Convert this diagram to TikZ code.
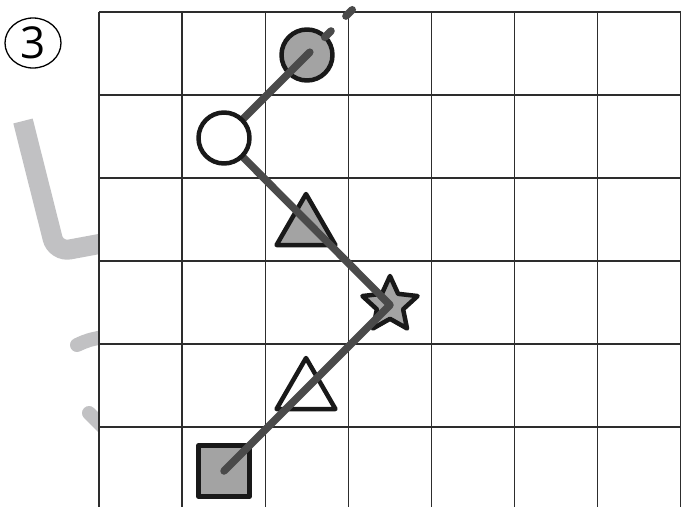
\documentclass[tikz,border=0pt]{standalone}
\usepackage{fontspec}
\newfontfamily\numfont{Open Sans}
\usetikzlibrary{shapes.geometric}
\definecolor{markgray}{RGB}{163,163,163}
\definecolor{pathgray}{RGB}{74,74,74}
\definecolor{ghostgray}{RGB}{193,193,195}
\definecolor{gridline}{RGB}{45,45,45}

\begin{document}
\begin{tikzpicture}[x=1pt,y=-1pt,
  token/.style={draw=black!90,line width=4.5pt,line join=round,inner sep=0pt},
  dot/.style={token,circle,minimum size=51pt},
  tri/.style={token,regular polygon,regular polygon sides=3,minimum size=68pt},
  route/.style={pathgray,line width=7.5pt,line cap=round,line join=round},
  ghost/.style={ghostgray,line width=14pt,line cap=round}]
  \useasboundingbox (0,0) rectangle (681,507);
  \draw[ghost,line width=20pt,line cap=butt,rounded corners=14pt] (23,121) -- (56,252) -- (110,242);
  \draw[ghost] (77,345) .. controls (88,340) .. (108,336);
  \draw[ghost] (89,413) -- (108,432);
  \fill[white] (99,12) rectangle (681,507);
  \foreach \i in {0,...,7}
    \draw[gridline,line width=1.3pt] (99+83.14*\i,12) -- (99+83.14*\i,507);
  \foreach \j in {0,...,5}
    \draw[gridline,line width=1.3pt] (99,12+83*\j) -- (681,12+83*\j);
  \node[draw,ellipse,line width=1.3pt,minimum width=56pt,minimum height=50pt,inner sep=0pt,
    font=\numfont\fontsize{44}{44}\selectfont] (num) at (33,43) {3};
  \node[dot,fill=markgray] (gc) at (307,55) {};
  \node[tri,fill=markgray] (tg) at (306,228) {};
  \node[token,star,star points=5,star point ratio=2.1,minimum size=58pt,fill=markgray] (st) at (390,305) {};
  \node[tri,fill=white] (tw) at (306,392) {};
  \node[token,rectangle,minimum size=51pt,fill=markgray] (sq) at (224,471) {};
  \coordinate (bend) at (224,138);
  \coordinate (beyond) at (369,-7);
  \draw[route] (sq.center) -- (st.center) -- (bend) -- (gc.center);
  \draw[route,dash pattern=on 9pt off 21pt,dash phase=5pt] (gc.center) -- (beyond);
  \node[dot,fill=white] (wc) at (bend) {};
\end{tikzpicture}
\end{document}
